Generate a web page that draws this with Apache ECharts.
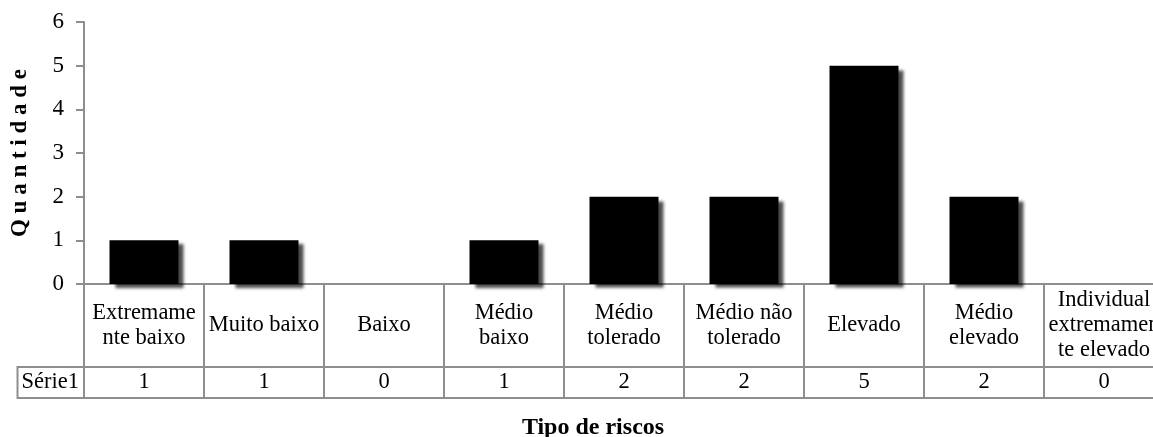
<!DOCTYPE html>
<html>
<head>
<meta charset="utf-8">
<script src="https://cdn.jsdelivr.net/npm/echarts@6/dist/echarts.min.js"></script>
<style>
  html, body { margin: 0; padding: 0; background: #fff; }
  #main { width: 1153px; height: 437px; }
</style>
</head>
<body>
<div id="main"></div>
<script>
// 数据
var categories = ['Extremame\nnte baixo', 'Muito baixo', 'Baixo', 'Médio\nbaixo', 'Médio\ntolerado',
    'Médio não\ntolerado', 'Elevado', 'Médio\nelevado', 'Individual\nextremamen\nte elevado'];
var values = [1, 1, 0, 1, 2, 2, 5, 2, 0];
var seriesName = 'Série1';
var yTicks = [0, 1, 2, 3, 4, 5, 6];

var lineColor = '#8e8e8e';
var font = 'Liberation Serif';
var fs = 22.5;

init();

function init() {
    var myChart = echarts.init(document.getElementById('main'));
    var option = {
        animation: false,
        textStyle: { fontFamily: font },
        grid: {
            left: 84,
            top: 22,
            width: 1080,
            height: 262,
            outerBoundsMode: 'none'
        },
        xAxis: [{
            // 类别行
            type: 'category',
            data: categories,
            axisLine: { lineStyle: { color: lineColor, width: 2 } },
            axisTick: { show: true, interval: 0, length: 83, lineStyle: { color: lineColor, width: 2 } },
            axisLabel: {
                interval: 0,
                margin: 41.5,
                verticalAlign: 'middle',
                fontSize: fs,
                lineHeight: 25,
                color: '#000',
                fontFamily: font
            }
        }, {
            // 数值行
            type: 'category',
            data: categories,
            position: 'bottom',
            offset: 83,
            axisLine: { lineStyle: { color: lineColor, width: 2 } },
            axisTick: { show: true, interval: 0, length: 31, lineStyle: { color: lineColor, width: 2 } },
            axisLabel: {
                interval: 0,
                margin: 15.5,
                verticalAlign: 'middle',
                fontSize: fs,
                color: '#000',
                fontFamily: font,
                formatter: function (v, i) { return String(values[i]); }
            },
            name: seriesName,
            nameLocation: 'start',
            nameGap: 0,
            nameMoveOverlap: false,
            nameTextStyle: {
                fontSize: fs,
                fontFamily: font,
                color: '#000',
                align: 'right',
                verticalAlign: 'top',
                height: 31,
                lineHeight: 31,
                padding: [0, 5, 0, 4],
                borderColor: lineColor,
                borderWidth: 2
            }
        }, {
            // 表格底线 + 轴标题
            type: 'category',
            data: categories,
            position: 'bottom',
            offset: 114,
            axisLine: { lineStyle: { color: lineColor, width: 2 } },
            axisTick: { show: false },
            axisLabel: { show: false },
            name: 'Tipo de riscos',
            nameLocation: 'middle',
            nameGap: 18,
            nameMoveOverlap: false,
            nameTextStyle: {
                fontSize: 24,
                fontWeight: 'bold',
                fontFamily: font,
                color: '#000',
                verticalAlign: 'top',
                padding: [0, 62, 0, 0]
            }
        }],
        yAxis: {
            type: 'value',
            min: yTicks[0],
            max: yTicks[yTicks.length - 1],
            interval: 1,
            axisLine: { show: true, lineStyle: { color: lineColor, width: 2 } },
            axisTick: { show: true, length: 8, lineStyle: { color: lineColor, width: 2 } },
            splitLine: { show: false },
            axisLabel: { margin: 20, fontSize: 23, color: '#000', fontFamily: font },
            name: 'Q u a n t i d a d e',
            nameLocation: 'middle',
            nameRotate: 90,
            nameGap: 52,
            nameMoveOverlap: false,
            nameTextStyle: { fontSize: 23, fontWeight: 'bold', fontFamily: font, color: '#000' }
        },
        series: [{
            name: seriesName,
            type: 'bar',
            xAxisIndex: 0,
            barWidth: 69,
            data: values,
            itemStyle: {
                color: '#000',
                shadowColor: 'rgba(0,0,0,0.7)',
                shadowBlur: 3,
                shadowOffsetX: 5,
                shadowOffsetY: 4
            }
        }]
    };
    myChart.setOption(option);
}
</script>
</body>
</html>
